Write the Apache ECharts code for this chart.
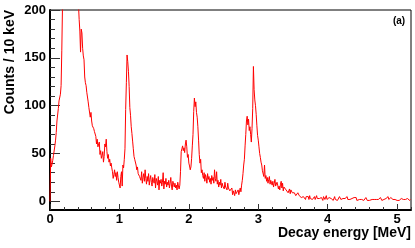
<!DOCTYPE html>
<html><head><meta charset="utf-8">
<script src="https://cdn.jsdelivr.net/npm/echarts@6/dist/echarts.min.js"></script>
<style>html,body{margin:0;padding:0;background:#fff}#c{width:415px;height:248px}</style>
</head><body><div id="c"></div>
<script>
// bin width 10 keV = 0.01 MeV; bins start at 0 MeV
const binWidth = 0.01;
// counts per 10 keV bin, 0.00 - 0.99 MeV
const counts0 = [0, 45, 36, 39, 43, 48, 46, 58, 64, 72,
 84, 82, 97, 105, 103, 112, 121, 158, 205, 230,
 248, 262, 270, 281, 275, 290, 284, 296, 288, 279,
 285, 270, 276, 262, 258, 249, 240, 236, 228, 219,
 212, 206, 190, 178, 156, 180, 176, 160, 152, 148,
 130, 124, 121, 114, 116, 104, 98, 99, 88, 93,
 84, 79, 81, 76, 73, 74, 68, 60, 65, 57,
 55, 62, 49, 53, 45, 48, 52, 41, 47, 60,
 57, 65, 52, 45, 49, 41, 44, 37, 40, 35,
 31, 24, 28, 33, 26, 30, 22, 31, 25, 20];
// 1.00 - 1.99 MeV
const counts1 = [22, 14, 26, 31, 16, 38, 35, 44, 55, 96,
 124, 153, 146, 136, 120, 98, 90, 78, 71, 63,
 55, 47, 44, 46, 38, 33, 36, 29, 31, 26,
 28, 22, 31, 19, 25, 29, 21, 33, 24, 18,
 26, 21, 29, 17, 23, 27, 20, 16, 25, 22,
 19, 28, 14, 24, 21, 17, 26, 12, 22, 19,
 23, 16, 20, 30, 13, 21, 18, 24, 15, 20,
 17, 22, 14, 19, 25, 16, 12, 21, 18, 15,
 19, 14, 17, 12, 20, 16, 13, 17, 31, 52,
 55, 58, 53, 56, 51, 60, 64, 57, 46, 49];
// 2.00 - 2.99 MeV
const counts2 = [40, 37, 33, 36, 45, 58, 70, 94, 108, 99,
 104, 93, 88, 78, 64, 49, 40, 44, 30, 33,
 27, 24, 30, 21, 28, 25, 19, 29, 23, 26,
 20, 24, 18, 27, 22, 25, 19, 33, 24, 21,
 31, 18, 22, 15, 20, 17, 23, 14, 19, 16,
 18, 13, 20, 15, 17, 12, 19, 14, 16, 11,
 13, 9, 14, 7, 11, 10, 6, 12, 8, 10,
 9, 12, 7, 11, 14, 10, 17, 22, 29, 38,
 44, 58, 70, 84, 89, 80, 86, 74, 78, 70,
 62, 76, 97, 141, 117, 106, 100, 91, 79, 69];
// 3.00 - 3.99 MeV
const counts3 = [64, 57, 50, 46, 41, 38, 32, 30, 26, 38,
 24, 27, 21, 25, 19, 23, 26, 18, 22, 20,
 17, 21, 15, 19, 23, 16, 14, 20, 17, 13,
 16, 12, 18, 21, 14, 19, 11, 15, 13, 17,
 12, 10, 14, 9, 11, 13, 8, 12, 10, 9,
 11, 7, 9, 10, 6, 8, 5, 9, 7, 6,
 5, 7, 4, 6, 3, 5, 6, 4, 2, 5,
 4, 3, 5, 2, 6, 3, 4, 5, 2, 4,
 3, 5, 2, 4, 6, 3, 1, 4, 3, 5,
 2, 4, 3, 1, 5, 3, 2, 4, 6, 2];
// 4.00 - 5.19 MeV
const counts4 = [3, 1, 4, 2, 5, 3, 2, 4, 1, 3,
 5, 2, 3, 4, 1, 3, 2, 5, 3, 2,
 4, 2, 3, 1, 4, 3, 2, 3, 5, 2,
 1, 3, 2, 4, 2, 3, 1, 2, 4, 3,
 2, 4, 1, 3, 2, 2, 3, 1, 4, 2,
 3, 2, 1, 3, 2, 4, 2, 1, 3, 2,
 1, 3, 2, 2, 4, 1, 3, 2, 1, 3,
 2, 1, 3, 2, 1, 2, 4, 2, 1, 2,
 3, 2, 1, 2, 3, 1, 2, 5, 2, 1,
 2, 4, 3, 5, 2, 3, 4, 2, 3, 4,
 1, 2, 3, 1, 2, 1, 3, 2, 1, 2,
 3, 1, 2, 2, 1, 3, 1, 2, 1, 2];

const xMajorTicks = [0, 1, 2, 3, 4, 5];
const xMinorTicks = [0, 0.2, 0.4, 0.6, 0.8, 1, 1.2, 1.4, 1.6, 1.8, 2, 2.2, 2.4, 2.6, 2.8, 3, 3.2, 3.4, 3.6, 3.8, 4, 4.2, 4.4, 4.6, 4.8, 5, 5.2];
const yMajorTicks = [0, 50, 100, 150, 200];
const yMinorTicks = [0, 10, 20, 30, 40, 50, 60, 70, 80, 90, 100, 110, 120, 130, 140, 150, 160, 170, 180, 190, 200];

const counts = counts0.concat(counts1, counts2, counts3, counts4);
const histData = counts.map((v, i) => [+(i * binWidth).toFixed(2), v]);
histData.push([+(counts.length * binWidth).toFixed(2), counts[counts.length - 1]]);

const FONT = '"Liberation Sans", Arial, Helvetica, sans-serif';
const lbl = {fontFamily: FONT, fontWeight: 'bold', fontSize: 13, color: '#000'};

const chart = echarts.init(document.getElementById('c'), null, {renderer: 'canvas'});
chart.setOption({
  animation: false,
  backgroundColor: '#fff',
  grid: {left: 50, right: 4, top: 10, bottom: 38, containLabel: false, outerBoundsMode: 'none',
         show: true, borderColor: '#000', borderWidth: 1, backgroundColor: 'transparent'},
  xAxis: [
    {type: 'value', min: 0, max: 5.2, position: 'bottom',
     axisLine: {show: true, onZero: false, lineStyle: {color: '#000', width: 2}},
     axisTick: {show: true, inside: true, length: 6, customValues: xMajorTicks, lineStyle: {color: '#333', width: 1}},
     axisLabel: Object.assign({customValues: xMajorTicks, margin: 3}, lbl),
     splitLine: {show: false}},
    {type: 'value', min: 0, max: 5.2, position: 'bottom',
     axisLine: {show: false, onZero: false},
     axisTick: {show: true, inside: true, length: 3, customValues: xMinorTicks, lineStyle: {color: '#333', width: 1}},
     axisLabel: {show: false}, splitLine: {show: false}}
  ],
  yAxis: [
    {type: 'value', min: -9, max: 200, position: 'left',
     axisLine: {show: true, onZero: false, lineStyle: {color: '#000', width: 2}},
     axisTick: {show: true, inside: true, length: 10, customValues: yMajorTicks, lineStyle: {color: '#333', width: 1}},
     axisLabel: Object.assign({customValues: yMajorTicks, margin: 4}, lbl),
     splitLine: {show: false}},
    {type: 'value', min: -9, max: 200, position: 'left',
     axisLine: {show: false, onZero: false},
     axisTick: {show: true, inside: true, length: 5, customValues: yMinorTicks, lineStyle: {color: '#333', width: 1}},
     axisLabel: {show: false}, splitLine: {show: false}}
  ],
  series: [{
    type: 'line', xAxisIndex: 0, yAxisIndex: 0, step: 'end', data: histData,
    showSymbol: false, symbol: 'none', clip: true,
    lineStyle: {color: '#ff0000', width: 1}, silent: true
  }],
  graphic: [
    {type: 'text', x: 10, y: 10, rotation: Math.PI / 2,
     style: {text: 'Counts / 10 keV', font: 'bold 14px ' + FONT, fill: '#000', align: 'right', verticalAlign: 'middle'}},
    {type: 'text', x: 411, y: 233,
     style: {text: 'Decay energy [MeV]', font: 'bold 14px ' + FONT, fill: '#000', align: 'right', verticalAlign: 'middle'}},
    {type: 'text', x: 399, y: 21,
     style: {text: '(a)', font: 'bold 10px ' + FONT, fill: '#000', align: 'center', verticalAlign: 'middle'}}
  ]
});
</script>
</body></html>
